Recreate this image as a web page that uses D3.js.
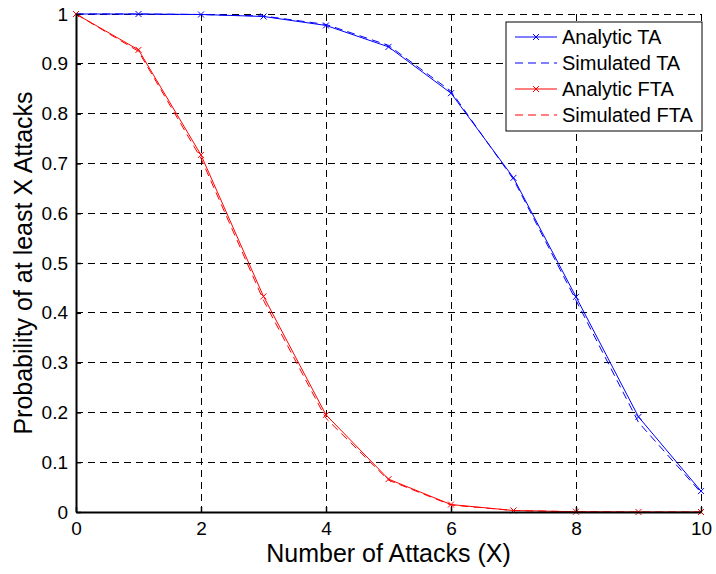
<!DOCTYPE html>
<html>
<head>
<meta charset="utf-8">
<script src="https://cdn.jsdelivr.net/npm/d3@7"></script>
<style>
  body { margin: 0; background: #fff; }
  text { font-family: "Liberation Sans", Arial, sans-serif; }
</style>
</head>
<body>
<div id="chart"></div>
<script>
// Values
const attacks = [0, 1, 2, 3, 4, 5, 6, 7, 8, 9, 10];
const analyticTA = [1, 1, 0.999, 0.995, 0.977, 0.934, 0.841, 0.671, 0.432, 0.191, 0.042];
const simulatedTA = [1, 1, 0.999, 0.996, 0.979, 0.937, 0.845, 0.668, 0.425, 0.18, 0.039];
const analyticFTA = [1, 0.928, 0.717, 0.433, 0.195, 0.066, 0.015, 0.003, 0.0005, 0, 0];
const simulatedFTA = [1, 0.925, 0.71, 0.425, 0.188, 0.064, 0.014, 0.003, 0.0005, 0, 0];
const xTicks = [0, 2, 4, 6, 8, 10];
const yTicks = [0, 0.1, 0.2, 0.3, 0.4, 0.5, 0.6, 0.7, 0.8, 0.9, 1];

const series = [
  {name: "Analytic TA", values: analyticTA, color: "#0000ff", dashed: false, marker: true},
  {name: "Simulated TA", values: simulatedTA, color: "#0000ff", dashed: true, marker: false},
  {name: "Analytic FTA", values: analyticFTA, color: "#ff0000", dashed: false, marker: true},
  {name: "Simulated FTA", values: simulatedFTA, color: "#ff0000", dashed: true, marker: false}
];

const svg = d3.select("#chart").append("svg")
  .attr("width", 716)
  .attr("height", 574);

const margin = {top: 14, right: 15, bottom: 62, left: 76};
const width = 716 - margin.left - margin.right;
const height = 574 - margin.top - margin.bottom;

const chart = svg.append("g").attr("transform", `translate(${margin.left},${margin.top})`);

const x = d3.scaleLinear().domain([0, 10]).range([0, width]);
const y = d3.scaleLinear().domain([0, 1]).range([height, 0]);

// Grid
chart.append("g")
  .selectAll("line.gx")
  .data(xTicks.slice(1))
  .join("line")
  .attr("x1", d => x(d)).attr("x2", d => x(d))
  .attr("y1", 0).attr("y2", height)
  .attr("stroke", "#000").attr("stroke-width", 1)
  .attr("shape-rendering", "crispEdges")
  .attr("stroke-dasharray", "7,5");
chart.append("g")
  .selectAll("line.gy")
  .data(yTicks.slice(1))
  .join("line")
  .attr("x1", 0).attr("x2", width)
  .attr("y1", d => y(d)).attr("y2", d => y(d))
  .attr("stroke", "#000").attr("stroke-width", 1)
  .attr("shape-rendering", "crispEdges")
  .attr("stroke-dasharray", "7,5");

// Lines
const line = d3.line()
  .x((d, i) => x(attacks[i]))
  .y(d => y(d));

series.forEach(s => {
  chart.append("path")
    .datum(s.values)
    .attr("fill", "none")
    .attr("stroke", s.color)
    .attr("stroke-width", 1)
    .attr("stroke-dasharray", s.dashed ? "8,5" : null)
    .attr("d", line);
  if (s.marker) {
    chart.append("g")
      .selectAll("path")
      .data(s.values)
      .join("path")
      .attr("transform", (d, i) => `translate(${x(attacks[i])},${y(d)})`)
      .attr("d", "M-3,-3L3,3M-3,3L3,-3")
      .attr("stroke", s.color)
      .attr("stroke-width", 1);
  }
});

// Axes
const xAxis = chart.append("g")
  .attr("transform", `translate(0,${height})`)
  .call(d3.axisBottom(x).tickValues(xTicks).tickSizeInner(-5).tickSizeOuter(0).tickPadding(10));
const yAxis = chart.append("g")
  .call(d3.axisLeft(y).tickValues(yTicks).tickFormat(d3.format("")).tickSizeInner(-5).tickSizeOuter(0).tickPadding(8));

[xAxis, yAxis].forEach(a => {
  a.select(".domain").attr("stroke", "#000").attr("stroke-width", 2);
  a.selectAll(".tick line").attr("stroke", "#000").attr("stroke-width", 1.5);
  a.selectAll(".tick text").attr("fill", "#000")
    .style("font-size", "19px")
    .style("font-family", "'Liberation Sans', Arial, sans-serif");
});

// Axis labels
svg.append("text")
  .attr("x", margin.left + width / 2)
  .attr("y", 562)
  .attr("text-anchor", "middle")
  .style("font-size", "25px")
  .text("Number of Attacks (X)");
svg.append("text")
  .attr("transform", `translate(32,${margin.top + height / 2}) rotate(-90)`)
  .attr("text-anchor", "middle")
  .style("font-size", "25px")
  .text("Probability of at least X Attacks");

// Legend
const legend = svg.append("g").attr("transform", "translate(506,22)");
legend.append("rect")
  .attr("width", 196).attr("height", 109)
  .attr("fill", "#fff").attr("stroke", "#000").attr("stroke-width", 1);
const rows = legend.selectAll("g.row")
  .data(series)
  .join("g")
  .attr("transform", (d, i) => `translate(0,${15 + i * 26})`);
rows.append("line")
  .attr("x1", 9).attr("x2", 51)
  .attr("stroke", d => d.color)
  .attr("stroke-width", 1)
  .attr("stroke-dasharray", d => d.dashed ? "8,5" : null);
rows.filter(d => d.marker).append("path")
  .attr("transform", "translate(30,0)")
  .attr("d", "M-3,-3L3,3M-3,3L3,-3")
  .attr("stroke", d => d.color);
rows.append("text")
  .attr("x", 56).attr("y", 7)
  .style("font-size", "20px")
  .text(d => d.name);
</script>
</body>
</html>
